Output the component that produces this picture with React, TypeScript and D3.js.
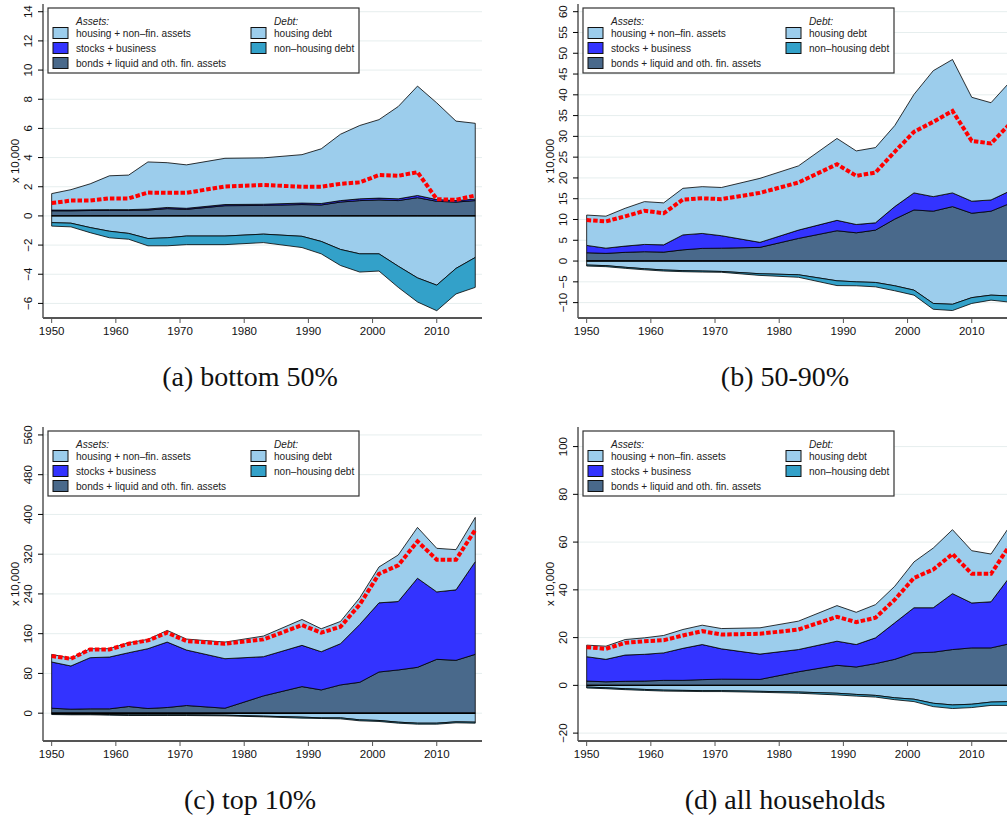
import * as d3 from "d3";

const years = [1950, 1953, 1956, 1959, 1962, 1965, 1968, 1971, 1977, 1983, 1989, 1992, 1995, 1998, 2001, 2004, 2007, 2010, 2013, 2016];

// (a) bottom 50%
const b50Bonds = [0.35, 0.35, 0.37, 0.38, 0.38, 0.4, 0.5, 0.45, 0.7, 0.72, 0.78, 0.75, 0.95, 1.05, 1.1, 1.05, 1.25, 1.0, 0.95, 1.05];
const b50Stocks = [0.05, 0.05, 0.05, 0.05, 0.05, 0.07, 0.08, 0.07, 0.08, 0.08, 0.1, 0.1, 0.1, 0.12, 0.12, 0.12, 0.15, 0.12, 0.1, 0.1];
const b50Housing = [1.13, 1.4, 1.78, 2.32, 2.37, 3.23, 3.07, 2.98, 3.17, 3.18, 3.32, 3.75, 4.55, 5.03, 5.38, 6.33, 7.5, 6.63, 5.45, 5.2];
const b50HousingDebt = [0.46, 0.5, 0.8, 1.05, 1.2, 1.55, 1.5, 1.38, 1.38, 1.25, 1.4, 1.75, 2.3, 2.6, 2.6, 3.45, 4.25, 4.75, 3.6, 2.85];
const b50OtherDebt = [0.24, 0.25, 0.35, 0.45, 0.4, 0.5, 0.55, 0.59, 0.59, 0.58, 0.77, 0.85, 1.1, 1.25, 1.18, 1.45, 1.65, 1.75, 1.75, 2.05];
const b50NetWorth = [0.88, 1.05, 1.05, 1.2, 1.2, 1.6, 1.58, 1.58, 2.02, 2.12, 2.0, 2.0, 2.2, 2.3, 2.8, 2.75, 3.0, 1.15, 1.1, 1.4];

// (b) 50-90%
const m40Bonds = [2.0, 1.85, 2.1, 2.25, 2.15, 2.7, 3.05, 3.1, 3.3, 5.45, 7.3, 6.8, 7.45, 10.1, 12.3, 12.0, 13.1, 11.5, 12.0, 13.9];
const m40Stocks = [1.77, 1.25, 1.5, 1.75, 1.75, 3.6, 3.6, 3.0, 1.2, 2.0, 2.5, 2.0, 1.75, 3.0, 4.1, 3.5, 3.3, 2.9, 2.7, 3.0];
const m40Housing = [7.3, 7.7, 9.1, 10.3, 10.1, 11.2, 11.25, 11.6, 15.4, 15.45, 19.7, 17.7, 18.1, 19.5, 23.7, 30.3, 32.1, 25.0, 23.4, 26.3];
const m40HousingDebt = [0.96, 1.1, 1.5, 1.85, 2.15, 2.3, 2.4, 2.5, 3.05, 3.3, 4.75, 5.0, 5.15, 5.95, 7.0, 10.2, 10.4, 8.8, 8.2, 8.4];
const m40OtherDebt = [0.24, 0.25, 0.25, 0.25, 0.25, 0.25, 0.25, 0.2, 0.4, 0.6, 1.15, 0.95, 1.05, 1.2, 1.2, 1.4, 1.5, 1.4, 1.2, 1.5];
const m40NetWorth = [9.86, 9.55, 10.75, 12.1, 11.5, 14.8, 15.1, 14.9, 16.4, 18.9, 23.3, 20.5, 21.3, 26.3, 31.1, 33.5, 36.1, 28.9, 28.3, 33.1];

// (c) top 10%
const t10Bonds = [10.0, 8.0, 8.7, 8.7, 13.4, 9.4, 11.4, 15.4, 10.0, 34.8, 53.5, 46.8, 56.9, 62.2, 82.9, 87.0, 92.3, 108.4, 106.4, 118.4];
const t10Stocks = [93, 87, 103, 104.3, 108.3, 120.4, 131.7, 111.7, 99.7, 78.9, 83, 76.9, 82.9, 116.4, 139.2, 137.7, 179.3, 135.7, 141.8, 186.6];
const t10Housing = [15.4, 15.4, 18.1, 16.8, 20.1, 18.7, 23.5, 22.1, 33.4, 41.5, 52.1, 46.2, 44.8, 53.5, 72.2, 93.7, 102.3, 87.7, 80.9, 89];
const t10HousingDebt = [1.3, 2, 2, 2.7, 3.3, 3.3, 3.3, 3.3, 4.0, 6.0, 8.0, 9.4, 9.4, 13.4, 14.7, 18.1, 20.1, 20.1, 17.4, 18.1];
const t10OtherDebt = [1.4, 1.3, 1.3, 1.3, 1.4, 1.4, 1.4, 1.4, 1.4, 1.4, 2.0, 1.3, 2.0, 2.0, 2.0, 2.0, 2.0, 2.0, 2.0, 2.0];
const t10NetWorth = [115, 109.7, 128.4, 128.4, 139.8, 146.5, 161.9, 145.2, 139.8, 148.5, 177.3, 161.9, 173.9, 218.7, 280.3, 297.7, 345.8, 309, 309, 369];

// (d) all households
const allBonds = [1.8, 1.5, 1.7, 1.8, 2.1, 2.1, 2.4, 2.6, 2.5, 5.7, 8.4, 7.7, 9.1, 10.9, 13.6, 13.9, 15.0, 15.7, 15.7, 17.5];
const allStocks = [10.2, 9.4, 11.0, 11.2, 11.5, 13.4, 14.7, 12.7, 10.6, 9.3, 10.1, 9.4, 10.8, 15.3, 18.9, 18.6, 23.4, 18.8, 19.3, 28.2];
const allHousing = [4.85, 5.5, 6.5, 6.9, 7.3, 7.9, 8.1, 8.5, 11.0, 11.9, 14.9, 13.5, 13.9, 15.3, 19.2, 25.0, 26.8, 21.9, 20.0, 21.3];
const allHousingDebt = [0.7, 1.0, 1.4, 1.7, 2.0, 2.1, 2.2, 2.2, 2.5, 2.8, 3.3, 3.8, 4.2, 5.2, 5.8, 7.5, 8.2, 7.9, 7.0, 6.8];
const allOtherDebt = [0.4, 0.4, 0.4, 0.4, 0.4, 0.4, 0.4, 0.4, 0.4, 0.5, 0.7, 0.7, 0.7, 0.8, 1.0, 1.4, 1.5, 1.4, 1.4, 1.6];
const allNetWorth = [16.0, 15.3, 17.8, 18.5, 18.9, 20.9, 22.7, 21.3, 21.6, 23.4, 28.7, 26.5, 28.3, 35.9, 45.0, 48.5, 55.0, 46.7, 46.7, 59];

const xTicks = [1950, 1960, 1970, 1980, 1990, 2000, 2010];

const colors = {
  housing: "#9ccdec",
  stocks: "#3333ff",
  bonds: "#49698b",
  housingDebt: "#9ccdec",
  otherDebt: "#33a1c9",
};

type PanelData = {
  caption: string;
  bonds: number[];
  stocks: number[];
  housing: number[];
  housingDebt: number[];
  otherDebt: number[];
  netWorth: number[];
  yTicks: number[];
  yDomain: [number, number];
};

const panels: PanelData[] = [
  { caption: "(a) bottom 50%", bonds: b50Bonds, stocks: b50Stocks, housing: b50Housing, housingDebt: b50HousingDebt, otherDebt: b50OtherDebt, netWorth: b50NetWorth, yTicks: d3.range(-6, 15, 2), yDomain: [-7.0, 14.53] },
  { caption: "(b) 50-90%", bonds: m40Bonds, stocks: m40Stocks, housing: m40Housing, housingDebt: m40HousingDebt, otherDebt: m40OtherDebt, netWorth: m40NetWorth, yTicks: d3.range(-10, 61, 5), yDomain: [-13.7, 61.85] },
  { caption: "(c) top 10%", bonds: t10Bonds, stocks: t10Stocks, housing: t10Housing, housingDebt: t10HousingDebt, otherDebt: t10OtherDebt, netWorth: t10NetWorth, yTicks: d3.range(0, 561, 80), yDomain: [-56, 576] },
  { caption: "(d) all households", bonds: allBonds, stocks: allStocks, housing: allHousing, housingDebt: allHousingDebt, otherDebt: allOtherDebt, netWorth: allNetWorth, yTicks: d3.range(-20, 101, 20), yDomain: [-23.3, 108.2] },
];

const sans = "'Liberation Sans', Arial, Helvetica, sans-serif";
const W = 439;
const H = 314;

function Legend() {
  const assetItems = [
    { label: "housing + non–fin. assets", color: colors.housing },
    { label: "stocks + business", color: colors.stocks },
    { label: "bonds + liquid and oth. fin. assets", color: colors.bonds },
  ];
  const debtItems = [
    { label: "housing debt", color: colors.housingDebt },
    { label: "non–housing debt", color: colors.otherDebt },
  ];
  return (
    <g transform="translate(5,4)" fontFamily={sans} fontSize={10.1} fill="#222">
      <rect x={0} y={0} width={311} height={65} fill="#fff" stroke="#333" strokeWidth={1.2} />
      <text x={28} y={17} fontStyle="italic">Assets:</text>
      <text x={226} y={17} fontStyle="italic">Debt:</text>
      {assetItems.map((d, i) => (
        <g key={d.label} transform={`translate(0,${25 + i * 15})`}>
          <rect x={5} y={-5.5} width={15} height={11} fill={d.color} stroke="#111" strokeWidth={1} />
          <text x={28} y={3.5}>{d.label}</text>
        </g>
      ))}
      {debtItems.map((d, i) => (
        <g key={d.label} transform={`translate(0,${25 + i * 15})`}>
          <rect x={203} y={-5.5} width={15} height={11} fill={d.color} stroke="#111" strokeWidth={1} />
          <text x={226} y={3.5}>{d.label}</text>
        </g>
      ))}
    </g>
  );
}

function Panel({ panel, left, top }: { panel: PanelData; left: number; top: number }) {
  const x = d3.scaleLinear().domain([1948.65, 2017.05]).range([0, W]);
  const y = d3.scaleLinear().domain(panel.yDomain).range([H, 0]);

  const rows = years.map((year, i) => ({
    year,
    bonds: panel.bonds[i],
    stocks: panel.stocks[i],
    housing: panel.housing[i],
    housingDebt: -panel.housingDebt[i],
    otherDebt: -panel.otherDebt[i],
  }));

  const assetStack = d3.stack<any>().keys(["bonds", "stocks", "housing"])(rows);
  const debtStack = d3
    .stack<any>()
    .keys(["housingDebt", "otherDebt"])
    .offset(d3.stackOffsetDiverging)(rows);

  const area = d3
    .area<any>()
    .x((d) => x(d.data.year))
    .y0((d) => y(d[0]))
    .y1((d) => y(d[1]));

  const netLine = d3
    .line<number>()
    .x((_, i) => x(years[i]))
    .y((d) => y(d));

  const fmt = d3.format("");

  return (
    <g transform={`translate(${left},${top})`}>
      {panel.yTicks.map((t) => (
        <line key={`g${t}`} x1={0} x2={W} y1={y(t)} y2={y(t)} stroke="#e6eeee" strokeWidth={1} />
      ))}
      {assetStack.map((s) => (
        <path key={s.key} d={area(s) ?? ""} fill={(colors as any)[s.key]} stroke="#000" strokeWidth={0.8} strokeLinejoin="round" />
      ))}
      {debtStack.map((s) => (
        <path key={s.key} d={area(s) ?? ""} fill={(colors as any)[s.key]} stroke="#000" strokeWidth={0.8} strokeLinejoin="round" />
      ))}
      <line x1={x(years[0])} x2={x(years[years.length - 1])} y1={y(0)} y2={y(0)} stroke="#000" strokeWidth={1.4} />
      <path d={netLine(panel.netWorth) ?? ""} fill="none" stroke="#ff0000" strokeWidth={4} strokeDasharray="4.5 2" />
      <Legend />
      {/* y axis */}
      <line x1={0} x2={0} y1={0} y2={H} stroke="#000" strokeWidth={1} />
      {panel.yTicks.map((t) => (
        <g key={`y${t}`} transform={`translate(0,${y(t)})`}>
          <line x1={-5} x2={0} stroke="#000" strokeWidth={1} />
          <text
            transform="translate(-11,0) rotate(-90)"
            textAnchor="middle"
            fontFamily={sans}
            fontSize={11.5}
            fill="#111"
          >
            {fmt(t)}
          </text>
        </g>
      ))}
      <text
        transform={`translate(-24,${H / 2}) rotate(-90)`}
        textAnchor="middle"
        fontFamily={sans}
        fontSize={11.5}
        fill="#111"
      >
        x 10,000
      </text>
      {/* x axis */}
      <line x1={0} x2={W} y1={H} y2={H} stroke="#555" strokeWidth={1.8} />
      {xTicks.map((t) => (
        <g key={`x${t}`} transform={`translate(${x(t)},${H})`}>
          <line y1={0} y2={5} stroke="#555" strokeWidth={1} />
          <text y={17} textAnchor="middle" fontFamily={sans} fontSize={11.5} fill="#111">
            {t}
          </text>
        </g>
      ))}
      <text
        x={207}
        y={H + 68}
        textAnchor="middle"
        fontFamily="'Liberation Serif', 'Times New Roman', serif"
        fontSize={28}
        fill="#111"
      >
        {panel.caption}
      </text>
    </g>
  );
}

export default function App() {
  const positions = [
    { left: 43, top: 4 },
    { left: 578, top: 4 },
    { left: 43, top: 427 },
    { left: 578, top: 427 },
  ];
  return (
    <>
      <style>{"body{margin:0}"}</style>
      <svg width={1007} height={819} style={{ display: "block", background: "#fff" }}>
        {panels.map((p, i) => (
          <Panel key={p.caption} panel={p} left={positions[i].left} top={positions[i].top} />
        ))}
      </svg>
    </>
  );
}
